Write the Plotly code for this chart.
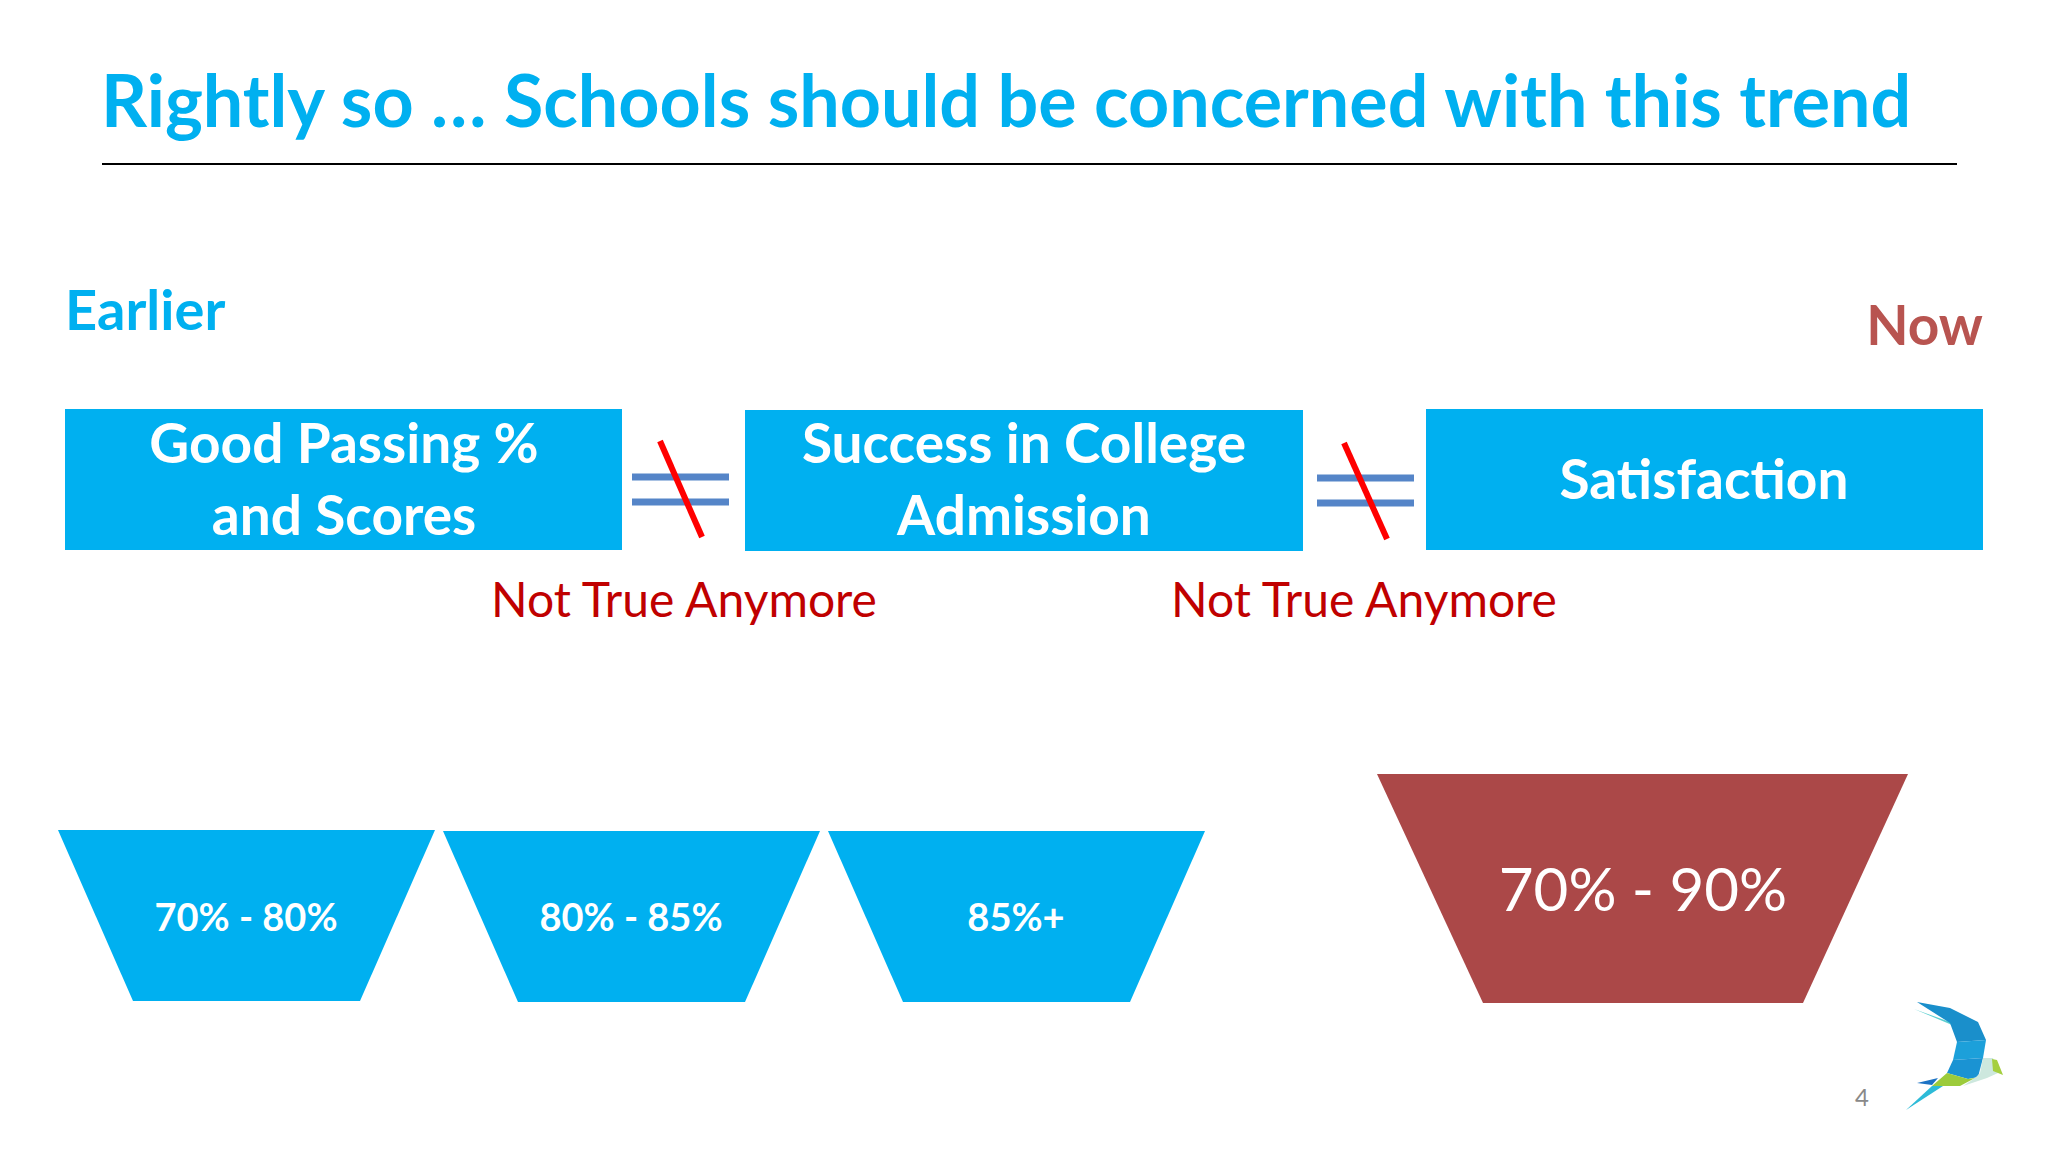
import plotly.graph_objects as go

# slide size in pixels, the axes below use the same units
slide_w = 2048
slide_h = 1152

sky = "#00B0F0"
brick = "#AB4848"

# text items
bold_labels = ["Good Passing %", "and Scores", "Success in College", "Admission", "Satisfaction"]
bold_label_x = [344, 344, 1024, 1024, 1704]
bold_label_y = [449, 521, 449, 521, 485]

small_labels = ["70% - 80%", "80% - 85%", "85%+"]
small_label_x = [246, 631, 1016]
small_label_y = [921, 921, 921]

not_true_labels = ["Not True Anymore", "Not True Anymore"]
not_true_x = [684, 1364]
not_true_y = [605, 605]

# boxes, as left, right, top, bottom
box_left = [65, 745, 1426]
box_right = [622, 1303, 1983]
box_top = [409, 410, 409]
box_bottom = [550, 551, 550]

# trapezoids, as top left, top right, bottom left, bottom right
trap_top_l = [58, 443, 828]
trap_top_r = [435, 820, 1205]
trap_bot_l = [133, 518, 903]
trap_bot_r = [360, 745, 1130]
trap_top = [830, 831, 831]
trap_bot = [1001, 1002, 1002]

# not equal signs
eq_left = [632, 1317]
eq_right = [729, 1414]
eq_y1 = [477, 478]
eq_y2 = [502, 503]
slash_x1 = [660, 1344]
slash_y1 = [441, 443]
slash_x2 = [702, 1387]
slash_y2 = [537, 539]

# logo pieces
logo_wing_top_x = [1917, 1950, 1978, 1986, 1957, 1950]
logo_wing_top_y = [1002, 1008, 1022, 1040, 1042, 1023]
logo_wing_mid_x = [1957, 1986, 1983, 1953]
logo_wing_mid_y = [1042, 1040, 1058, 1060]
logo_wing_low_x = [1953, 1983, 1978, 1968, 1947]
logo_wing_low_y = [1060, 1058, 1077, 1079, 1073]
logo_sliver_x = [1914, 1952, 1950, 1930]
logo_sliver_y = [1009, 1025, 1022, 1015]
logo_belly_x = [1947, 1968, 1975, 1960, 1932]
logo_belly_y = [1073, 1079, 1078, 1086, 1086]
logo_pale_x = [1983, 1993, 1998, 1987, 1963, 1975, 1980]
logo_pale_y = [1058, 1058, 1073, 1078, 1086, 1078, 1073]
logo_head_x = [1992, 1997, 2003, 1993]
logo_head_y = [1059, 1060, 1075, 1071]
logo_tail_x = [1917, 1938, 1932]
logo_tail_y = [1083, 1078, 1085]
logo_tail2_x = [1906, 1932, 1943]
logo_tail2_y = [1110, 1086, 1086]


def add_poly(fig, xs, ys, color):
    fig.add_trace(go.Scatter(x=xs + xs[:1], y=ys + ys[:1], mode="lines", fill="toself",
                             fillcolor=color, line=dict(color=color, width=0), hoverinfo="skip"))


def add_line(fig, xs, ys, color, width):
    fig.add_trace(go.Scatter(x=xs, y=ys, mode="lines", line=dict(color=color, width=width), hoverinfo="skip"))


def add_text(fig, xs, ys, labels, color, size, weight="normal", position="middle center"):
    fig.add_trace(go.Scatter(x=xs, y=ys, text=labels, mode="text", textposition=position, hoverinfo="skip",
                             textfont=dict(family="Lato", color=color, size=size, weight=weight)))


def main():
    fig = go.Figure()

    add_line(fig, [102, 1957], [164, 164], "#000000", 2)

    for i in range(len(box_left)):
        add_poly(fig, [box_left[i], box_right[i], box_right[i], box_left[i]],
                 [box_top[i], box_top[i], box_bottom[i], box_bottom[i]], sky)

    for i in range(len(trap_top)):
        add_poly(fig, [trap_top_l[i], trap_top_r[i], trap_bot_r[i], trap_bot_l[i]],
                 [trap_top[i], trap_top[i], trap_bot[i], trap_bot[i]], sky)
    add_poly(fig, [1377, 1908, 1803, 1483], [774, 774, 1003, 1003], brick)

    for i in range(len(eq_left)):
        add_line(fig, [eq_left[i], eq_right[i]], [eq_y1[i], eq_y1[i]], "#5585C8", 7)
        add_line(fig, [eq_left[i], eq_right[i]], [eq_y2[i], eq_y2[i]], "#5585C8", 7)
        add_line(fig, [slash_x1[i], slash_x2[i]], [slash_y1[i], slash_y2[i]], "#FF0000", 6)

    add_poly(fig, logo_sliver_x, logo_sliver_y, "#5CCFD0")
    add_poly(fig, logo_wing_top_x, logo_wing_top_y, "#1A8FCB")
    add_poly(fig, logo_wing_mid_x, logo_wing_mid_y, "#1CA0DA")
    add_poly(fig, logo_wing_low_x, logo_wing_low_y, "#1A93D3")
    add_poly(fig, logo_pale_x, logo_pale_y, "#CDE8DE")
    add_poly(fig, logo_belly_x, logo_belly_y, "#9CCB3B")
    add_poly(fig, logo_head_x, logo_head_y, "#A5CF3F")
    add_poly(fig, logo_tail_x, logo_tail_y, "#1C72C4")
    add_poly(fig, logo_tail2_x, logo_tail2_y, "#2DBBD8")

    add_text(fig, [101], [109], ["Rightly so … Schools should be concerned with this trend"],
             sky, 71.8, "bold", "middle right")
    add_text(fig, [65], [316], ["Earlier"], sky, 56, "bold", "middle right")
    add_text(fig, [1983], [331], ["Now"], "#B85450", 55, "bold", "middle left")
    add_text(fig, bold_label_x, bold_label_y, bold_labels, "#FFFFFF", 55, "bold")
    add_text(fig, not_true_x, not_true_y, not_true_labels, "#C00000", 48)
    add_text(fig, small_label_x, small_label_y, small_labels, "#FFFFFF", 38, "bold")
    add_text(fig, [1643], [896], ["70% - 90%"], "#FFFFFF", 60)
    add_text(fig, [1862], [1100], ["4"], "#898989", 24)

    fig.update_layout(
        width=slide_w,
        height=slide_h,
        margin=dict(l=0, r=0, t=0, b=0),
        paper_bgcolor="#FFFFFF",
        plot_bgcolor="#FFFFFF",
        showlegend=False,
        xaxis=dict(range=[0, slide_w], visible=False),
        yaxis=dict(range=[slide_h, 0], visible=False),
    )

    fig.write_html("out.html", config={"displayModeBar": False}, post_script="document.body.style.margin='0';")


if __name__ == "__main__":
    main()
